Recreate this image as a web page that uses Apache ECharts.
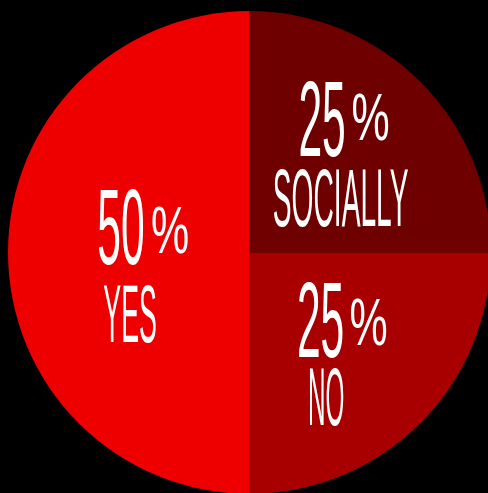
<!DOCTYPE html>
<html><head><meta charset="utf-8">
<script src="https://cdn.jsdelivr.net/npm/echarts@6/dist/echarts.min.js"></script>
<style>html,body{margin:0;padding:0;background:#000;}#c{width:488px;height:493px;}</style>
</head><body><div id="c"></div>
<script>
const categories = ['SOCIALLY', 'NO', 'YES'];
const values = [25, 25, 50];
const colors = ['#6e0000', '#a80000', '#ee0000'];
const unit = '%';

const FONT = 'Liberation Sans';
// label layers: the number, the percent sign, the category name
const layers = [
  { fmt: p => String(p.value), fontSize: 108, scale: { SOCIALLY: 0.395, NO: 0.395, YES: 0.395 },
    shift: { SOCIALLY: [-14.9, -38.6], NO: [-16.4, -12.9], YES: [-4.8, -18] } },
  { fmt: () => unit, fontSize: 66, scale: { SOCIALLY: 0.65, NO: 0.65, YES: 0.65 },
    shift: { SOCIALLY: [33.6, -43.3], NO: [31.6, -13.1], YES: [44.3, -18.2] } },
  { fmt: p => p.name, fontSize: 81, scale: { SOCIALLY: 0.348, NO: 0.30, YES: 0.33 },
    shift: { SOCIALLY: [3.6, 39], NO: [-10.9, 62.2], YES: [4.3, 67.6] } }
];

const chart = echarts.init(document.getElementById('c'), null, { renderer: 'canvas' });

const series = layers.map((L, li) => ({
  type: 'pie',
  center: [249.5, 252.5],
  radius: 241.5,
  startAngle: 90,
  clockwise: true,
  silent: true,
  labelLine: { show: false },
  itemStyle: { borderWidth: 0 },
  label: {
    show: true, position: 'inside', align: 'center',
    color: '#fff', fontFamily: FONT, fontWeight: 'normal',
    fontSize: L.fontSize, lineHeight: L.fontSize,
    formatter: L.fmt
  },
  labelLayout: p => {
    const c = categories[p.dataIndex];
    const s = L.shift[c];
    return { dx: s[0] / L.scale[c], dy: s[1] };
  },
  data: categories.map((n, i) => ({
    name: n, value: values[i],
    itemStyle: { color: li === 0 ? colors[i] : 'rgba(0,0,0,0)' }
  }))
}));

chart.setOption({ backgroundColor: '#000', animation: false, series });

function condense() {
  layers.forEach((L, si) => {
    const data = chart.getModel().getSeriesByIndex(si).getData();
    data.each(i => {
      const el = data.getItemGraphicEl(i);
      const t = el && el.getTextContent();
      if (t) { t.scaleX = L.scale[categories[i]]; t.scaleY = 1; t.markRedraw(); }
    });
  });
}
condense();
</script></body></html>
